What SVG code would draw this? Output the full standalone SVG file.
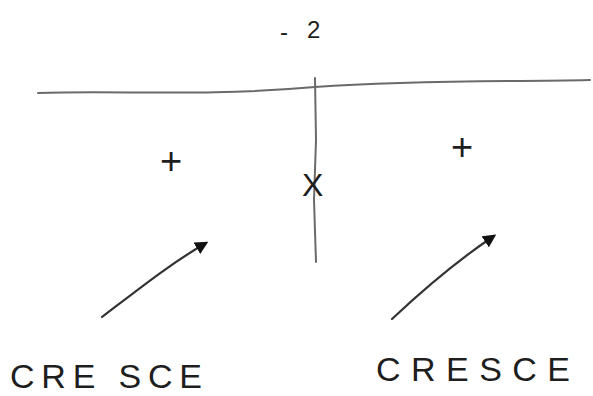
<svg xmlns="http://www.w3.org/2000/svg" width="593" height="396" viewBox="0 0 593 396">
<style>
.ln{stroke:#6a6a6a;stroke-width:2;fill:none;stroke-linecap:round}
.ar{stroke:#333;stroke-width:2.2;fill:none;stroke-linecap:round}
.t{font-family:"Liberation Sans",Arial,sans-serif;fill:#1e1e1e}
</style>
<defs>
<marker id="ah" viewBox="0 0 10 10" refX="8" refY="5" markerWidth="6" markerHeight="6" orient="auto">
<path d="M0,0 L10,5 L0,10 z" fill="#111"/>
</marker>
</defs>
<rect width="593" height="396" fill="#fff"/>
<g id="connectors">
<path class="ln" d="M38,93 C120,90 200,97 315,87 C420,80 500,82 590,80"/>
<path class="ln" d="M315,78 L316,140 L314,200 L316,262" stroke-width="1.3" stroke="#888"/>
<path class="ar" d="M102,317 C140,288 170,264 206,243" marker-end="url(#ah)"/>
<path class="ar" d="M392,319 C425,288 458,260 494,236" marker-end="url(#ah)"/>
</g>
<g id="root-label"><text class="t" x="280" y="40" font-size="24">-</text><text class="t" x="307" y="38" font-size="24">2</text></g>
<g id="sign-left"><text class="t" x="160" y="174" font-size="38">+</text></g>
<g id="sign-right"><text class="t" x="451" y="160" font-size="38">+</text></g>
<g id="excluded"><text class="t" x="302" y="196" font-size="32">X</text></g>
<g id="label-left"><text class="t" x="10" y="388" font-size="34" textLength="192" lengthAdjust="spacing">CRE SCE</text></g>
<g id="label-right"><text class="t" x="376" y="381" font-size="34" textLength="194" lengthAdjust="spacing">CRESCE</text></g>
</svg>
